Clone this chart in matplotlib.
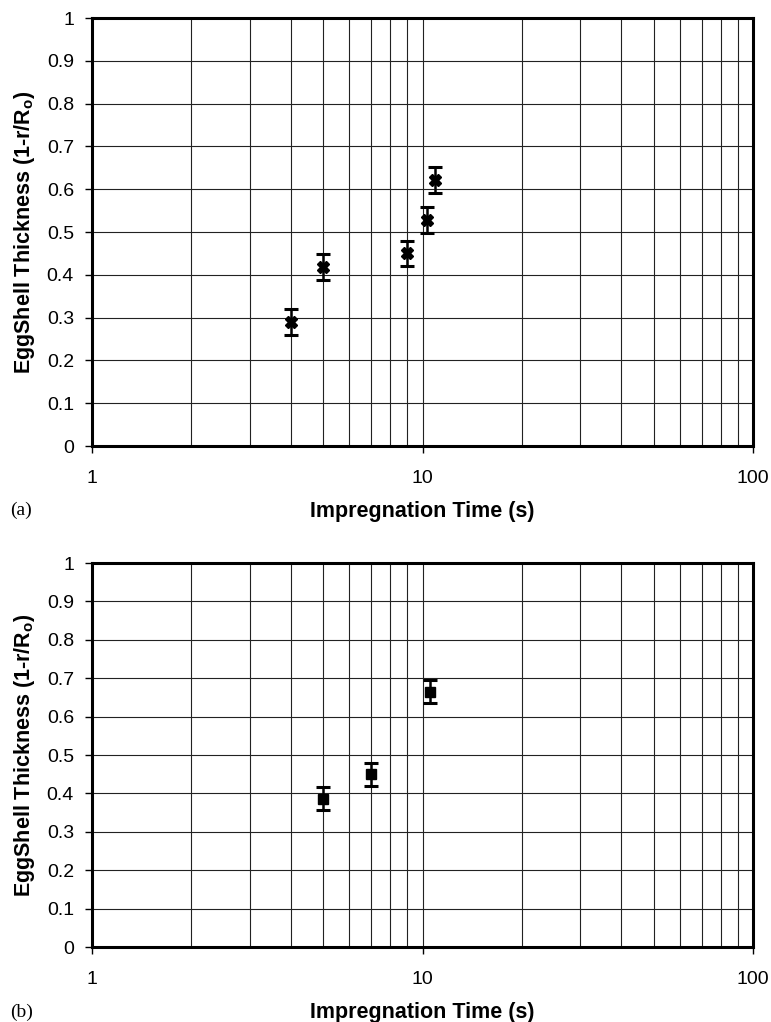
import matplotlib
matplotlib.use("Agg")
import matplotlib.pyplot as plt
from matplotlib.ticker import FixedLocator, NullFormatter

# panel (a)
time_a = [4.0, 5.0, 9.0, 10.3, 10.9]
thick_a = [0.29, 0.418, 0.45, 0.528, 0.622]
err_a = [0.03, 0.03, 0.03, 0.03, 0.03]

# panel (b)
time_b = [5.0, 7.0, 10.5]
thick_b = [0.386, 0.45, 0.665]
err_b = [0.03, 0.03, 0.03]

y_ticks = [0, 0.1, 0.2, 0.3, 0.4, 0.5, 0.6, 0.7, 0.8, 0.9, 1]
y_labels = ['0', '0.1', '0.2', '0.3', '0.4', '0.5', '0.6', '0.7', '0.8', '0.9', '1']
x_ticks = [1, 10, 100]
x_labels = ['1', '10', '100']

plt.rcParams['font.family'] = ['Liberation Sans', 'DejaVu Sans']

fig = plt.figure(figsize=(7.71, 10.22), dpi=100)
W, H = 771.0, 1022.0
ax_a = fig.add_axes([92 / W, 1 - 446 / H, 661 / W, 428 / H])
ax_b = fig.add_axes([92 / W, 1 - 947 / H, 661 / W, 384 / H])


def style(ax):
    ax.set_xscale('log')
    ax.set_xlim(1, 100)
    ax.set_ylim(0, 1)
    minor = [m * d for d in (1, 10) for m in range(2, 10)]
    ax.xaxis.set_major_locator(FixedLocator(x_ticks))
    ax.xaxis.set_minor_locator(FixedLocator(minor))
    ax.xaxis.set_minor_formatter(NullFormatter())
    ax.set_xticks(x_ticks)
    ax.set_xticklabels(x_labels)
    ax.set_yticks(y_ticks)
    ax.set_yticklabels(y_labels)
    ax.grid(True, which='both', axis='x', color='#222222', linewidth=0.8)
    ax.grid(True, which='major', axis='y', color='#222222', linewidth=0.8)
    ax.tick_params(axis='both', which='major', direction='out', length=5,
                   width=1, labelsize=14, colors='black')
    ax.tick_params(axis='x', which='major', pad=12)
    ax.tick_params(axis='y', which='major', pad=8)
    ax.tick_params(axis='x', which='minor', length=0)
    for s in ax.spines.values():
        s.set_linewidth(2.2)
        s.set_color('black')
    ax.set_xlabel('Impregnation Time (s)', fontsize=15.5, fontweight='bold', labelpad=10)
    ax.set_ylabel(r'EggShell Thickness (1-r/R$_\mathregular{o}$)', fontsize=15.5,
                  fontweight='bold', labelpad=7)
    ax.set_axisbelow(True)


style(ax_a)
style(ax_b)

ax_a.errorbar(time_a, thick_a, yerr=err_a, fmt='X', color='black', markersize=9,
              elinewidth=1.8, capsize=5, capthick=2.2, zorder=5)
ax_b.errorbar(time_b, thick_b, yerr=err_b, fmt='s', color='black', markersize=7.5,
              elinewidth=1.8, capsize=5, capthick=2.2, zorder=5)

fig.text(10 / W, 1 - 510 / H, '(a)', fontsize=14, family='Liberation Serif', va='center')
fig.text(10 / W, 1 - 1012 / H, '(b)', fontsize=14, family='Liberation Serif', va='center')

fig.savefig('out.png', dpi=100)
